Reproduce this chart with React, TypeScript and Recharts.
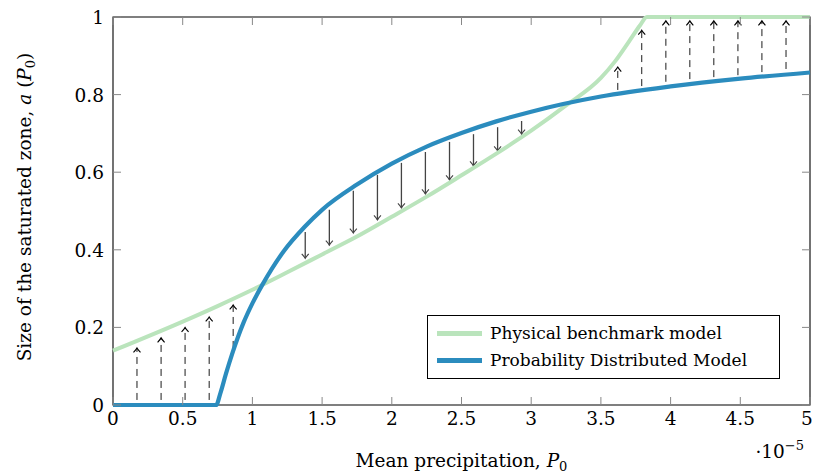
import React from "react";
import { LineChart, Line, XAxis, YAxis, ReferenceLine, ReferenceArea, Legend } from "recharts";

// Physical benchmark model (x in units of 1e-5)
const greenX = [0, 0.5, 0.75, 1.0, 1.25, 1.5, 1.75, 2.0, 2.25, 2.5, 2.75, 3.0, 3.25, 3.5, 3.6, 3.7, 3.78, 3.83, 4.0, 4.5, 5.0];
const greenY = [0.14, 0.215, 0.255, 0.297, 0.342, 0.388, 0.434, 0.485, 0.537, 0.592, 0.648, 0.707, 0.772, 0.843, 0.885, 0.936, 0.978, 1, 1, 1, 1];

// Probability distributed model
const blueX = [0, 0.5, 0.74, 0.77, 0.81, 0.856, 0.935, 1.0, 1.067, 1.222, 1.377, 1.5, 1.75, 2.0, 2.25, 2.5, 2.75, 3.0, 3.5, 4.0, 4.5, 5.0];
const blueY = [0, 0, 0, 0.03, 0.08, 0.133, 0.211, 0.262, 0.307, 0.395, 0.46, 0.503, 0.568, 0.622, 0.666, 0.701, 0.731, 0.756, 0.795, 0.821, 0.841, 0.857];

// correction arrows: tail (from) -> head (to)
const arrowX = [0.172, 0.345, 0.517, 0.69, 0.862, 1.379, 1.552, 1.724, 1.897, 2.069, 2.241, 2.414, 2.586, 2.759, 2.931, 3.621, 3.793, 3.966, 4.138, 4.31, 4.483, 4.655, 4.828];
const arrowFrom = [0.013, 0.013, 0.013, 0.013, 0.147, 0.446, 0.503, 0.552, 0.593, 0.624, 0.652, 0.678, 0.698, 0.716, 0.732, 0.812, 0.822, 0.833, 0.84, 0.845, 0.85, 0.858, 0.866];
const arrowTo = [0.147, 0.173, 0.2, 0.227, 0.258, 0.378, 0.412, 0.443, 0.477, 0.508, 0.544, 0.58, 0.616, 0.655, 0.698, 0.871, 0.966, 0.99, 0.99, 0.99, 0.99, 0.99, 0.99];

const xTicks = [0, 0.5, 1, 1.5, 2, 2.5, 3, 3.5, 4, 4.5, 5];
const yTicks = [0, 0.2, 0.4, 0.6, 0.8, 1];

const greenData = greenX.map((x, i) => ({ x, y: greenY[i] }));
const blueData = blueX.map((x, i) => ({ x, y: blueY[i] }));

const FONT = "'DejaVu Serif', serif";
const W = 814;
const PLOT_W = 697;
const PLOT_H = 388;
const TICK = 8;

function XTick({ x, y, payload }: any) {
  // keep the last label inside the picture
  const tx = Math.min(x, W - 7);
  return (
    <g>
      <line x1={x} x2={x} y1={y} y2={y - TICK} stroke="#888" />
      <line x1={x} x2={x} y1={y - PLOT_H} y2={y - PLOT_H + TICK} stroke="#888" />
      <text x={tx} y={y + 20} textAnchor="middle" fontFamily={FONT} fontSize={18.5} fill="#000">
        {payload.value}
      </text>
    </g>
  );
}

function YTick({ x, y, payload }: any) {
  return (
    <g>
      <line x1={x} x2={x + TICK} y1={y} y2={y} stroke="#888" />
      <line x1={x + PLOT_W} x2={x + PLOT_W - TICK} y1={y} y2={y} stroke="#888" />
      <text x={x - 9} y={y + 7} textAnchor="end" fontFamily={FONT} fontSize={18.5} fill="#000">
        {payload.value}
      </text>
    </g>
  );
}

function XTitle({ viewBox }: any) {
  const { x, y, width } = viewBox;
  return (
    <g fontFamily={FONT} fill="#000">
      <text x={x + width / 2} y={y + 62} textAnchor="middle" fontSize={18.5}>
        Mean precipitation, <tspan fontStyle="italic">P</tspan>
        <tspan fontSize={13} dy={4}>0</tspan>
      </text>
      <text x={x + width - 6} y={y + 53} textAnchor="end" fontSize={18.5}>
        ·10<tspan fontSize={13} dy={-8}>−5</tspan>
      </text>
    </g>
  );
}

function YTitle({ viewBox }: any) {
  const { y, height } = viewBox;
  const cx = 31;
  const cy = y + height / 2 - 4;
  return (
    <text
      x={cx}
      y={cy}
      transform={`rotate(-90, ${cx}, ${cy})`}
      textAnchor="middle"
      fontFamily={FONT}
      fontSize={18.5}
      fill="#000"
    >
      Size of the saturated zone, <tspan fontStyle="italic">a</tspan> (<tspan fontStyle="italic">P</tspan>
      <tspan fontSize={13} dy={4}>0</tspan>
      <tspan dy={-4}>)</tspan>
    </text>
  );
}

function arrowShape(dashed: boolean) {
  return (p: any) => {
    const { x1, y1, x2, y2 } = p;
    const dir = y2 > y1 ? 1 : -1;
    const hy = y2 - dir * 4.5;
    const color = dashed ? "#000" : "#444";
    return (
      <g>
        <line
          x1={x1}
          y1={y1}
          x2={x2}
          y2={y2}
          stroke={color}
          strokeWidth={dashed ? 0.9 : 1.3}
          strokeDasharray={dashed ? "7 5" : undefined}
        />
        <path
          d={`M ${x2 - 3.5} ${hy} Q ${x2 - 0.8} ${y2 - dir * 1.5} ${x2} ${y2} Q ${x2 + 0.8} ${y2 - dir * 1.5} ${x2 + 3.5} ${hy}`}
          fill="none"
          stroke={color}
          strokeWidth={1.1}
        />
      </g>
    );
  };
}

function LegendBox({ payload }: any) {
  return (
    <div
      style={{
        border: "1px solid #000",
        background: "#fff",
        padding: "4px 8px 4px 9px",
        fontFamily: FONT,
        fontSize: 17,
        lineHeight: "27px",
        boxSizing: "border-box",
      }}
    >
      {(payload || []).map((e: any) => (
        <div key={e.value} style={{ display: "flex", alignItems: "center", whiteSpace: "nowrap" }}>
          <span style={{ display: "inline-block", width: 45, height: 5, background: e.color, marginRight: 8 }} />
          <span>{e.value}</span>
        </div>
      ))}
    </div>
  );
}

export default function App() {
  return (
    <div style={{ position: "absolute", left: 0, top: 0, background: "#fff" }}>
      <LineChart width={W} height={476} margin={{ top: 17, right: 4, left: 0, bottom: 0 }}>
        <XAxis
          dataKey="x"
          type="number"
          domain={[0, 5]}
          ticks={xTicks}
          height={71}
          tickSize={0}
          tickMargin={0}
          axisLine={false}
          tick={<XTick />}
          interval={0}
          label={{ content: XTitle }}
        />
        <YAxis
          type="number"
          domain={[0, 1]}
          ticks={yTicks}
          width={113}
          tickSize={0}
          tickMargin={0}
          axisLine={false}
          tick={<YTick />}
          interval={0}
          label={{ content: YTitle }}
        />
        <ReferenceArea x1={0} x2={5} y1={0} y2={1} fill="none" stroke="#000" strokeWidth={1.1} />
        {arrowX.map((x, i) => (
          <ReferenceLine
            key={i}
            segment={[
              { x, y: arrowFrom[i] },
              { x, y: arrowTo[i] },
            ]}
            shape={arrowShape(arrowTo[i] > arrowFrom[i])}
          />
        ))}
        <Line
          data={greenData}
          dataKey="y"
          name="Physical benchmark model"
          type="monotone"
          stroke="#bae4bc"
          strokeWidth={4}
          dot={false}
          activeDot={false}
          isAnimationActive={false}
        />
        <Line
          data={blueData}
          dataKey="y"
          name="Probability Distributed Model"
          type="monotone"
          stroke="#2b8cbe"
          strokeWidth={4.2}
          dot={false}
          activeDot={false}
          isAnimationActive={false}
        />
        <Legend
          layout="vertical"
          align="center"
          verticalAlign="middle"
          content={<LegendBox />}
          wrapperStyle={{ left: 427, top: 315, width: 353 }}
        />
      </LineChart>
    </div>
  );
}
